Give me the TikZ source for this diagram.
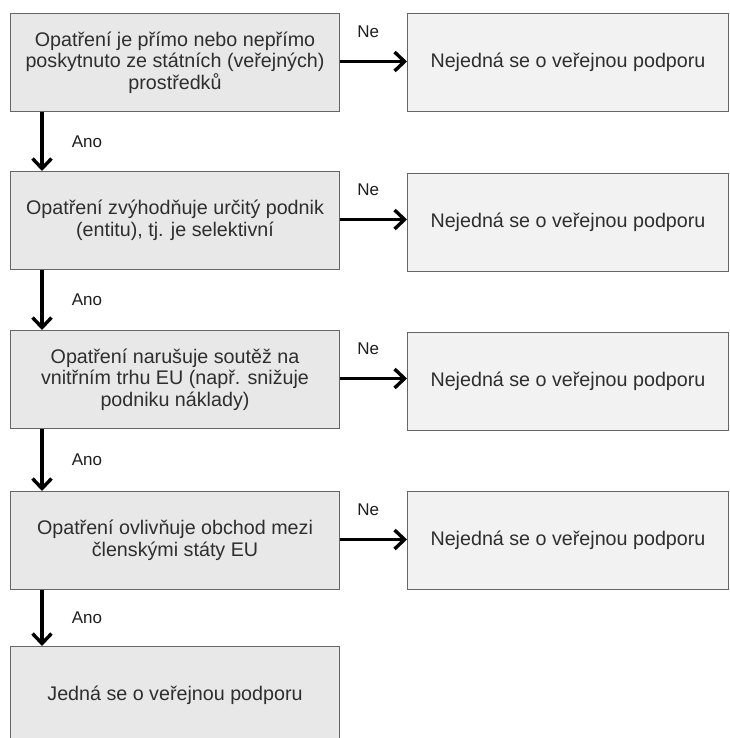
\documentclass[tikz,border=0pt]{standalone}
\usepackage{fontspec}
\setmainfont{Liberation Sans}
\usetikzlibrary{arrows.meta,calc}
\definecolor{boxline}{HTML}{666666}
\definecolor{leftfill}{HTML}{E8E8E8}
\definecolor{rightfill}{HTML}{F2F2F2}
\definecolor{boxtext}{HTML}{2E2E2E}
\definecolor{lbltext}{HTML}{1E1E1E}
\tikzset{
  qbox/.style={draw=boxline, line width=1pt, fill=leftfill, text=boxtext,
    minimum width=329pt, minimum height=98pt, inner sep=0pt, align=center,
    anchor=north west, font=\fontsize{19.7}{21.7}\selectfont},
  abox/.style={qbox, fill=rightfill, minimum width=321pt},
  arr/.style={line width=3.4pt, -{Straight Barb[length=10pt,width=19pt]}},
  lbl/.style={text=lbltext, inner sep=0pt, font=\fontsize{17}{19}\selectfont},
}
\begin{document}
\begin{tikzpicture}[x=1pt,y=-1pt]
\useasboundingbox (0,0) rectangle (729,738);
\clip (0,0) rectangle (729,738);
\fill[white] (0,0) rectangle (729,738);
% question boxes
\node[qbox] (b1) at (10,13) {Opatření je přímo nebo nepřímo\\poskytnuto ze státních (veřejných)\\prostředků};
\node[qbox] (b2) at (10,171) {Opatření zvýhodňuje určitý podnik\\(entitu), tj. je selektivní};
\node[qbox] (b3) at (10,330) {Opatření narušuje soutěž na\\vnitřním trhu EU (např. snižuje\\podniku náklady)};
\node[qbox] (b4) at (10,491) {Opatření ovlivňuje obchod mezi\\členskými státy EU};
\node[qbox] (b5) at (10,646) {Jedná se o veřejnou podporu};
% answer boxes
\node[abox] (r1) at (407,13) {Nejedná se o veřejnou podporu};
\node[abox] (r2) at (407,173) {Nejedná se o veřejnou podporu};
\node[abox] (r3) at (407,332) {Nejedná se o veřejnou podporu};
\node[abox] (r4) at (407,491) {Nejedná se o veřejnou podporu};
% Ne arrows
\foreach \i in {1,2,3,4}{
  \draw[arr] ([yshift=1pt]b\i.east) -- ([yshift=1pt]r\i.west |- b\i.east)
    node[lbl, pos=0.42, yshift=30pt] {Ne};
}
% Ano arrows
\foreach \i/\j in {1/2,2/3,3/4,4/5}{
  \draw[arr] ([xshift=32pt]b\i.south west) -- ([xshift=32pt]b\j.north west)
    node[lbl, midway, xshift=45pt] {Ano};
}
\end{tikzpicture}
\end{document}
